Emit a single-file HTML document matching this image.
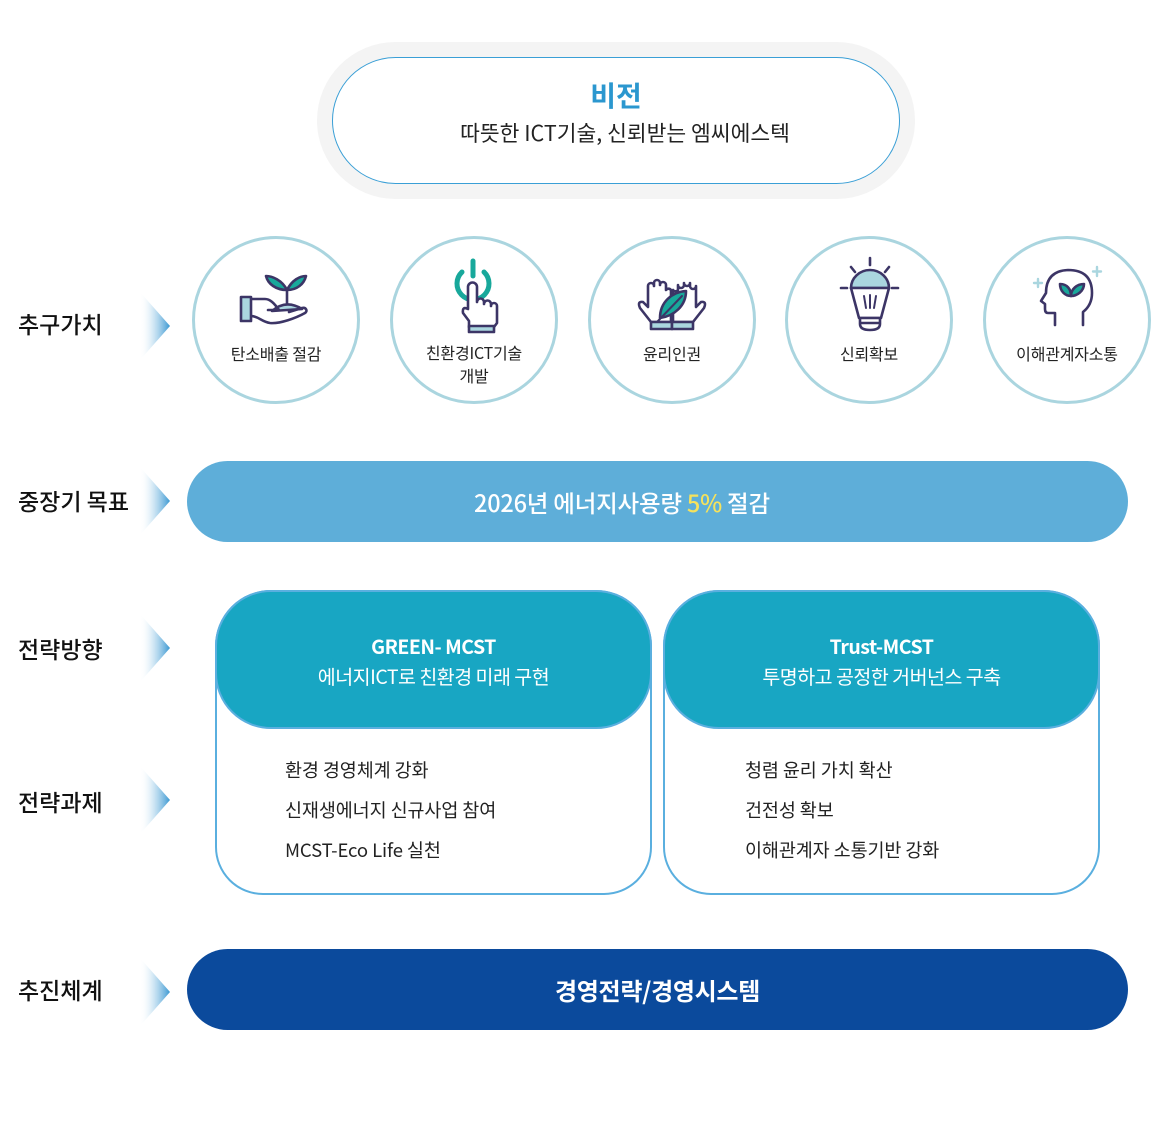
<!DOCTYPE html>
<html><head><meta charset="utf-8">
<style>
*{margin:0;padding:0;box-sizing:border-box}
html,body{width:1157px;height:1123px;background:#fff;overflow:hidden}
body{position:relative;font-family:"Liberation Sans","Noto Sans CJK KR",sans-serif;color:#222}
.abs{position:absolute}
.t{position:absolute;white-space:nowrap;font-family:"Noto Sans CJK KR","Liberation Sans",sans-serif}
.lbl{left:18px;font-size:23px;font-weight:500;color:#111;line-height:30px;letter-spacing:0}
.circ{position:absolute;width:168px;height:168px;border:3px solid #aad5df;border-radius:50%;background:#fff}
.cl{font-size:16px;color:#222;text-align:center;line-height:23px;letter-spacing:-0.2px}
.item{font-size:18.5px;color:#222;line-height:24px;letter-spacing:-0.1px}
.hd{font-size:19.5px;color:#fff;text-align:center;line-height:30px;letter-spacing:-0.5px}
</style></head><body>

<!-- Vision -->
<div class="abs" style="left:317px;top:42px;width:598px;height:157px;border-radius:79px;background:#f4f4f4"></div>
<div class="abs" style="left:332px;top:57px;width:568px;height:127px;border-radius:64px;background:#fff;border:1px solid #3a9fd6"></div>
<div class="t" style="left:332px;top:78px;width:568px;text-align:center;font-size:28px;font-weight:700;color:#2b97cf;line-height:34px">비전</div>
<div class="t" style="left:425px;top:119px;width:400px;text-align:center;font-size:21.5px;color:#222;line-height:28px;letter-spacing:0">따뜻한 ICT기술, 신뢰받는 엠씨에스텍</div>

<!-- circles -->
<div class="circ" style="left:192px;top:236px"></div>
<div class="circ" style="left:390px;top:236px"></div>
<div class="circ" style="left:588px;top:236px"></div>
<div class="circ" style="left:785px;top:236px"></div>
<div class="circ" style="left:983px;top:236px"></div>

<div class="t cl" style="left:196px;top:342px;width:160px">탄소배출 절감</div>
<div class="t cl" style="left:394px;top:341px;width:160px">친환경ICT기술<br>개발</div>
<div class="t cl" style="left:592px;top:342px;width:160px">윤리인권</div>
<div class="t cl" style="left:789px;top:342px;width:160px">신뢰확보</div>
<div class="t cl" style="left:987px;top:342px;width:160px">이해관계자소통</div>

<!-- row labels -->
<div class="t lbl" style="top:308px">추구가치</div>
<div class="t lbl" style="top:485px">중장기 목표</div>
<div class="t lbl" style="top:633px">전략방향</div>
<div class="t lbl" style="top:786px">전략과제</div>
<div class="t lbl" style="top:974px">추진체계</div>

<!-- goal bar -->
<div class="abs" style="left:187px;top:461px;width:941px;height:81px;border-radius:41px;background:#5eaed9"></div>
<div class="t" style="left:474px;top:486px;font-size:23.5px;font-weight:500;color:#fff;line-height:32px;letter-spacing:-0.2px">2026년 에너지사용량 <span style="color:#f6e25c">5%</span> 절감</div>

<!-- strategy boxes -->
<div class="abs" style="left:215px;top:590px;width:437px;height:305px;border:2px solid #5aafdf;border-radius:56px 56px 48px 48px;background:#fff"></div>
<div class="abs" style="left:215px;top:590px;width:437px;height:139px;border:2px solid #5aafdf;border-radius:56px;background:#18a6c3"></div>
<div class="t hd" style="left:215px;top:631px;width:437px;font-weight:700">GREEN- MCST</div>
<div class="t hd" style="left:215px;top:661px;width:437px">에너지ICT로 친환경 미래 구현</div>

<div class="abs" style="left:663px;top:590px;width:437px;height:305px;border:2px solid #5aafdf;border-radius:56px 56px 48px 48px;background:#fff"></div>
<div class="abs" style="left:663px;top:590px;width:437px;height:139px;border:2px solid #5aafdf;border-radius:56px;background:#18a6c3"></div>
<div class="t hd" style="left:663px;top:631px;width:437px;font-weight:700">Trust-MCST</div>
<div class="t hd" style="left:663px;top:661px;width:437px">투명하고 공정한 거버넌스 구축</div>

<div class="t item" style="left:285px;top:758px">환경 경영체계 강화</div>
<div class="t item" style="left:285px;top:798px">신재생에너지 신규사업 참여</div>
<div class="t item" style="left:285px;top:838px">MCST-Eco Life 실천</div>
<div class="t item" style="left:745px;top:758px">청렴 윤리 가치 확산</div>
<div class="t item" style="left:745px;top:798px">건전성 확보</div>
<div class="t item" style="left:745px;top:838px">이해관계자 소통기반 강화</div>

<!-- bottom bar -->
<div class="abs" style="left:187px;top:949px;width:941px;height:81px;border-radius:41px;background:#0b4a9c"></div>
<div class="t" style="left:187px;top:974px;width:941px;text-align:center;font-size:24px;font-weight:700;color:#fff;line-height:32px;letter-spacing:-0.3px">경영전략/경영시스템</div>

<!-- SVG overlay: arrows and icons -->
<svg class="abs" style="left:0;top:0" width="1157" height="1123" viewBox="0 0 1157 1123">
<defs>
<linearGradient id="ag" x1="0" y1="0" x2="1" y2="0">
<stop offset="0" stop-color="#ffffff" stop-opacity="0"/>
<stop offset="0.35" stop-color="#cfe6f4" stop-opacity="0.6"/>
<stop offset="1" stop-color="#3a98d2"/>
</linearGradient>
</defs>
<g fill="url(#ag)">
<polygon points="140,292 170,326 140,360"/>
<polygon points="140,467 170,501 140,535"/>
<polygon points="140,614 170,648 140,682"/>
<polygon points="140,766 170,800 140,834"/>
<polygon points="140,958 170,992 140,1026"/>
</g>

<g stroke="#3c3566" stroke-width="2.6" stroke-linejoin="round" stroke-linecap="round">
<!-- icon1 hand with plant -->
<path d="M287,289 V305" fill="none"/>
<path d="M287,290 C282,280 272,276 266,276 C268,284 276,290 287,290 Z" fill="#18a89b"/>
<path d="M287,290 C292,280 300,276 306,276 C304,284 297,290 287,290 Z" fill="#18a89b"/>
<path d="M272,311 Q286,299 302,309 Z" fill="#aad6df"/>
<path d="M251,299 H265 C270,299 274,303 279,310 H268" fill="none"/>
<path d="M251,316 C258,316 262,322 270,323 C280,324 296,318 305,313 C308,311 306,307 302,308 L289,312" fill="none"/>
<rect x="241" y="297" width="10" height="24" fill="#aad6df"/>

<!-- icon2 power + finger -->
<path d="M462,272 A16,16 0 1 0 484,272" fill="none" stroke="#18a89b" stroke-width="5"/>
<path d="M473,261 V276" fill="none" stroke="#18a89b" stroke-width="5"/>
<path d="M468,308 V287 a4.5,4.5 0 0 1 9,0 V302 a3.5,3.5 0 0 1 7,0 V304 a3.5,3.5 0 0 1 7,0 V306 a3,3 0 0 1 6,0 V323 L494,327 H469 V321 L463,313 Q462,306 468,309 Z" fill="#fff"/>
<rect x="469" y="326" width="25" height="6" fill="#aad6df"/>

<!-- icon3 hands with leaf -->
<path d="M671,322 H651 L640,308 Q637,301 643,302 L648,307 V286 a3,3 0 0 1 6,0 V283 a3,3 0 0 1 6,0 V285 a3,3 0 0 1 6,0 V290 a3,3 0 0 1 5,0 Z" fill="#fff"/>
<path d="M673,322 H693 L704,308 Q707,301 701,302 L696,307 V286 a3,3 0 0 1 -6,0 V283 a3,3 0 0 1 -6,0 V285 a3,3 0 0 1 -6,0 V290 a3,3 0 0 1 -5,0 Z" fill="#fff"/>
<path d="M660,318 C660,302 672,292 686,291 C686,306 674,316 660,318 Z" fill="#18a89b"/>
<path d="M657,322 L682,296" fill="none" stroke-width="2"/>
<rect x="651" y="322" width="21" height="7" fill="#aad6df"/>
<rect x="672" y="322" width="21" height="7" fill="#aad6df"/>

<!-- icon4 bulb -->
<path d="M870,258 V265 M851,267 L855,272 M889,267 L885,272 M841,288 H847 M892,288 H898" fill="none"/>
<path d="M851,288 A19,18 0 0 1 889,288 Z" fill="#aad6df"/>
<path d="M851,288 H889 L881,318 H859 Z" fill="#fff"/>
<path d="M864,296 L866,308 M870,295 V308 M876,296 L874,308" fill="none" stroke-width="2"/>
<path d="M860,318 H880 V324 Q880,330 870,330 Q860,330 860,324 Z M860,323 H880" fill="#fff"/>

<!-- icon5 head -->
<path d="M1055,325 V313 H1048 Q1045,313 1045,309 V304 L1041,301 L1046,293 Q1046,271 1068,270 Q1092,270 1092,293 Q1092,305 1083,312 V325" fill="#fff"/>
<path d="M1071,296 C1065,296 1060,291 1060,284 C1067,284 1071,289 1071,296 Z" fill="#18a89b"/>
<path d="M1071,296 C1077,296 1084,291 1084,284 C1077,284 1071,289 1071,296 Z" fill="#18a89b"/>
<path d="M1038,279 V287 M1034,283 H1042 M1097,267 V276 M1093,271.5 H1101" fill="none" stroke="#aad6df" stroke-width="2.4"/>
</g>
</svg>
</body></html>
